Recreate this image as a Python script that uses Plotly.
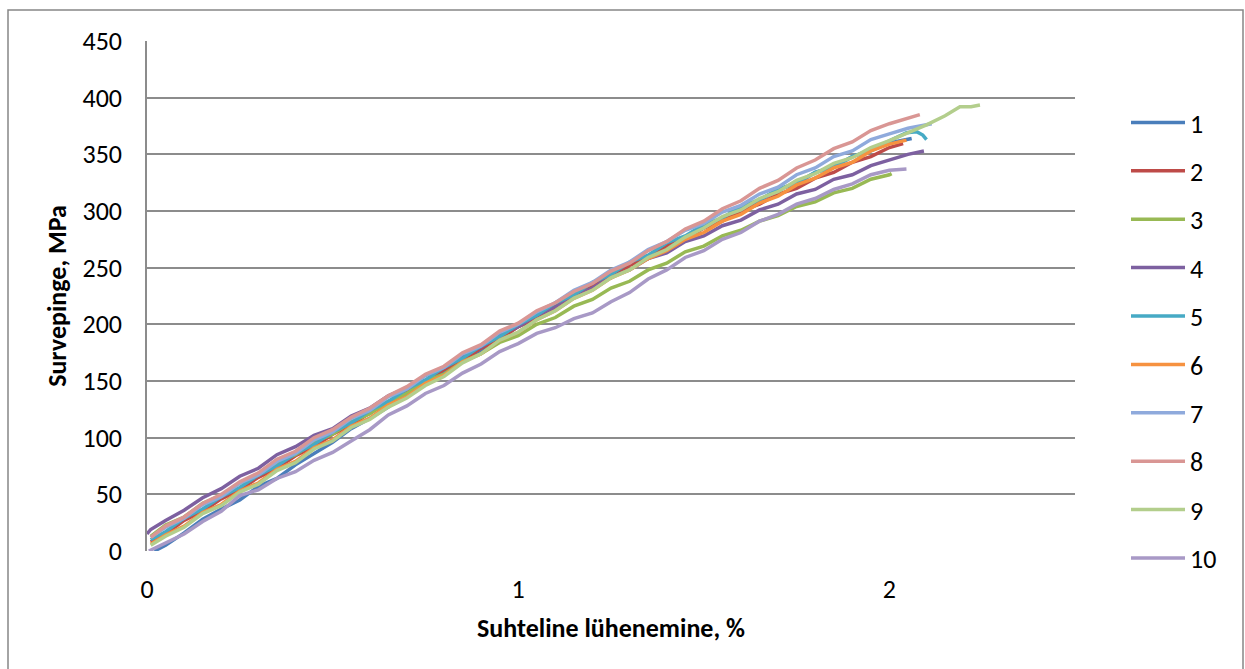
import plotly.graph_objects as go

# ---------------- data ----------------
SERIES_NAMES = ["1", "2", "3", "4", "5", "6", "7", "8", "9", "10"]
COLORS = ["#4A7EBB", "#BE4B48", "#98B954", "#7D60A0", "#46AAC5",
          "#F69240", "#8FAADC", "#D99694", "#B3CE8C", "#A899C6"]

# shared strain grid, % (0.05 ... 2.00)
STRAIN_GRID = [0.05, 0.10, 0.15, 0.20, 0.25, 0.30, 0.35, 0.40, 0.45, 0.50,
               0.55, 0.60, 0.65, 0.70, 0.75, 0.80, 0.85, 0.90, 0.95, 1.00,
               1.05, 1.10, 1.15, 1.20, 1.25, 1.30, 1.35, 1.40, 1.45, 1.50,
               1.55, 1.60, 1.65, 1.70, 1.75, 1.80, 1.85, 1.90, 1.95, 2.00]

# start points
s1_start_x, s1_start_y = [0.02], [0]
s2_start_x, s2_start_y = [0.01], [8]
s3_start_x, s3_start_y = [0.01], [13]
s4_start_x, s4_start_y = [0.0, 0.01], [15, 19]
s5_start_x, s5_start_y = [0.01], [10]
s6_start_x, s6_start_y = [0.01], [6]
s7_start_x, s7_start_y = [0.01], [12]
s8_start_x, s8_start_y = [0.01], [12]
s9_start_x, s9_start_y = [0.01], [5]
s10_start_x, s10_start_y = [0.005], [0]

# stress on the grid, MPa
s1_grid = [5, 16, 28, 37, 45, 57, 64, 76, 86, 96,
           108, 117, 127, 139, 147, 158, 168, 176, 187, 198,
           205, 217, 224, 235, 242, 253, 260, 271, 277, 287,
           293, 303, 309, 319, 324, 334, 339, 348, 353, 360]
s2_grid = [15, 27, 35, 46, 54, 65, 73, 84, 92, 103,
           111, 122, 130, 141, 149, 160, 168, 179, 187, 198,
           206, 217, 224, 235, 241, 252, 258, 269, 275, 285,
           291, 300, 306, 315, 320, 329, 334, 343, 348, 356]
s3_grid = [23, 30, 42, 49, 60, 67, 78, 85, 96, 103,
           114, 121, 132, 139, 150, 156, 167, 174, 184, 190,
           200, 206, 216, 222, 232, 238, 248, 254, 264, 269,
           278, 283, 291, 296, 304, 308, 316, 320, 328, 332]
s4_grid = [27, 36, 47, 55, 66, 73, 85, 92, 102, 108,
           119, 126, 137, 144, 155, 162, 173, 180, 191, 198,
           208, 215, 225, 232, 242, 248, 258, 263, 273, 278,
           287, 292, 301, 306, 315, 319, 328, 332, 340, 345]
s5_grid = [17, 29, 37, 48, 56, 67, 75, 86, 94, 105,
           113, 124, 132, 143, 151, 162, 170, 181, 189, 200,
           208, 219, 226, 237, 244, 255, 261, 272, 278, 288,
           294, 304, 310, 319, 325, 334, 339, 348, 354, 362]
s6_grid = [14, 22, 34, 41, 53, 60, 72, 79, 91, 98,
           110, 117, 129, 136, 148, 155, 167, 174, 186, 193,
           204, 212, 223, 230, 241, 248, 258, 265, 275, 281,
           291, 297, 307, 313, 323, 329, 338, 343, 353, 359]
s7_grid = [21, 29, 41, 48, 60, 67, 79, 86, 98, 105,
           117, 124, 136, 143, 155, 162, 174, 181, 193, 200,
           211, 219, 230, 237, 248, 255, 266, 273, 283, 289,
           299, 305, 315, 321, 332, 338, 348, 353, 363, 368]
s8_grid = [22, 30, 42, 50, 61, 69, 81, 88, 100, 107,
           118, 126, 137, 145, 156, 163, 175, 182, 194, 201,
           212, 219, 229, 236, 247, 254, 265, 273, 284, 291,
           302, 309, 320, 327, 338, 345, 355, 361, 371, 377]
s9_grid = [13, 21, 33, 40, 52, 59, 71, 78, 90, 97,
           109, 116, 127, 135, 146, 154, 166, 174, 186, 193,
           204, 212, 223, 230, 241, 248, 259, 266, 277, 285,
           295, 301, 311, 317, 327, 333, 342, 347, 356, 362]
s10_grid = [7, 15, 26, 35, 49, 54, 64, 70, 80, 87,
            97, 107, 120, 128, 139, 146, 157, 165, 176, 183,
            192, 197, 205, 210, 220, 228, 240, 248, 259, 265,
            275, 281, 291, 297, 306, 311, 319, 324, 332, 336]

# end (tail) points beyond the grid
s1_tail_x, s1_tail_y = [2.06], [364]
s2_tail_x, s2_tail_y = [2.037], [359.5]
s3_tail_x, s3_tail_y = [2.006], [333]
s4_tail_x, s4_tail_y = [2.05, 2.093], [350, 353]
s5_tail_x, s5_tail_y = [2.046, 2.073, 2.09, 2.10], [369, 370, 367, 363]
s6_tail_x, s6_tail_y = [2.046], [362.5]
s7_tail_x, s7_tail_y = [2.05, 2.114], [373, 377]
s8_tail_x, s8_tail_y = [2.05, 2.082], [382, 385]
s9_tail_x, s9_tail_y = [2.05, 2.10, 2.15, 2.17, 2.19, 2.22, 2.244], [369, 376, 384, 388, 392, 392, 393.5]
s10_tail_x, s10_tail_y = [2.046], [337]

Y_TICKS = [0, 50, 100, 150, 200, 250, 300, 350, 400, 450]
X_TICKS = [0, 1, 2]
X_TITLE = "Suhteline lühenemine, %"
Y_TITLE = "Survepinge, MPa"

series = [
    (s1_start_x, s1_start_y, s1_grid, s1_tail_x, s1_tail_y),
    (s2_start_x, s2_start_y, s2_grid, s2_tail_x, s2_tail_y),
    (s3_start_x, s3_start_y, s3_grid, s3_tail_x, s3_tail_y),
    (s4_start_x, s4_start_y, s4_grid, s4_tail_x, s4_tail_y),
    (s5_start_x, s5_start_y, s5_grid, s5_tail_x, s5_tail_y),
    (s6_start_x, s6_start_y, s6_grid, s6_tail_x, s6_tail_y),
    (s7_start_x, s7_start_y, s7_grid, s7_tail_x, s7_tail_y),
    (s8_start_x, s8_start_y, s8_grid, s8_tail_x, s8_tail_y),
    (s9_start_x, s9_start_y, s9_grid, s9_tail_x, s9_tail_y),
    (s10_start_x, s10_start_y, s10_grid, s10_tail_x, s10_tail_y),
]

# ---------------- figure ----------------
W, H = 1245, 669
ML, MR, MT, MB = 147, 170, 41, 118
PW, PH = W - ML - MR, H - MT - MB
FONT = "Calibri, Carlito, Lato, sans-serif"
FS = 26
GRID = "#8C8C8C"

fig = go.Figure()
for i, (sx, sy, gy, tx, ty) in enumerate(series):
    fig.add_trace(go.Scatter(
        x=sx + STRAIN_GRID + tx,
        y=sy + gy + ty,
        mode="lines",
        name=SERIES_NAMES[i],
        legendgroup=SERIES_NAMES[i],
        line=dict(color=COLORS[i], width=3.5),
    ))


def px_x(p):
    return (p - ML) / PW


def px_y(p):
    return (H - MB - p) / PH


fig.update_layout(
    width=W, height=H,
    margin=dict(l=ML, r=MR, t=MT, b=MB),
    paper_bgcolor="white", plot_bgcolor="white",
    font=dict(family=FONT, size=FS, color="black"),
    showlegend=True,
    legend=dict(
        x=px_x(1126), xanchor="left",
        y=px_y(99), yanchor="top",
        traceorder="grouped",
        tracegroupgap=11.6,
        itemwidth=54,
        font=dict(family=FONT, size=FS, color="black"),
        bgcolor="rgba(0,0,0,0)",
    ),
    xaxis=dict(
        range=[0, 2.5],
        tickvals=X_TICKS, ticktext=[str(v) for v in X_TICKS],
        showgrid=False, zeroline=False, showline=False,
        ticks="", ticklabelstandoff=20,
        title=dict(text="<b>" + X_TITLE + "</b>", standoff=14,
                   font=dict(family=FONT, size=FS)),
    ),
    yaxis=dict(
        range=[0, 450],
        tickvals=Y_TICKS,
        showgrid=True, gridcolor=GRID, gridwidth=1.5,
        zeroline=False,
        showline=True, linecolor=GRID, linewidth=1.5,
        ticks="", ticklabelstandoff=18,
        title=dict(text="<b>" + Y_TITLE + "</b>", standoff=8,
                   font=dict(family=FONT, size=FS)),
    ),
    shapes=[dict(
        type="rect", xref="paper", yref="paper",
        x0=px_x(8), x1=px_x(1243), y0=px_y(676), y1=px_y(10),
        line=dict(color="#868686", width=1.5), fillcolor="rgba(0,0,0,0)",
        layer="below",
    )],
)

fig.write_html("out.html")
